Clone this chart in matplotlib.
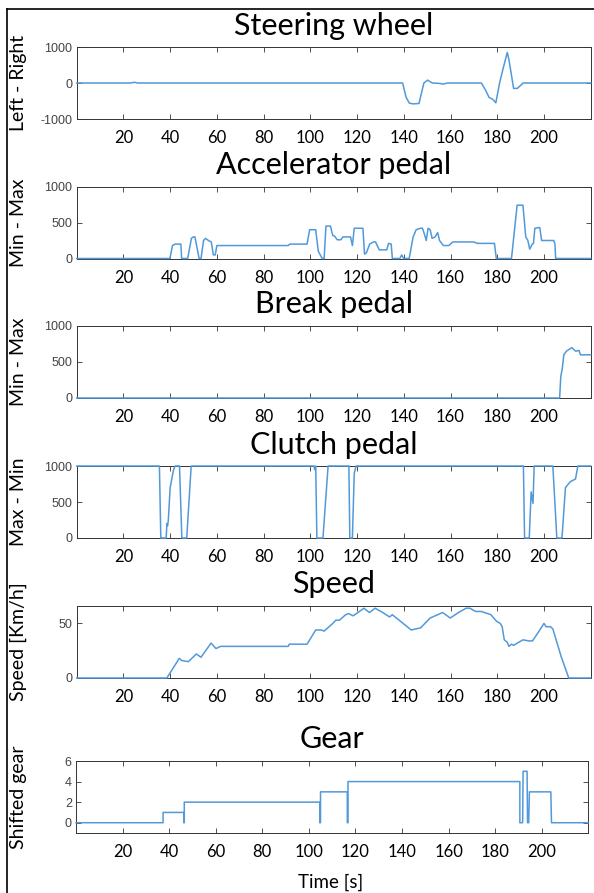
import matplotlib
matplotlib.use('Agg')
import matplotlib.pyplot as plt
from matplotlib.lines import Line2D

# ---- data ----
steer_t = [0, 23, 24.8, 26, 139.5, 141, 142.4, 144, 146.5, 148.6, 150.2, 152.2, 155, 157, 158.6,
           173.2, 175, 176.5, 178, 179.4, 181, 182.5, 184.3, 185, 187, 188.6, 191.1, 220]
steer_v = [0, 0, 20, 0, 0, -400, -560, -580, -570, 0, 80, 0, -10, -30, 0,
           0, -200, -400, -450, -550, 0, 400, 850, 650, -150, -150, 0, 0]

acc_t = [0, 39.9, 41, 42.1, 44.6, 44.9, 47.5, 49.1, 49.9, 50.6, 52.4, 53.2, 54.3, 55.1, 56.4,
         57.6, 58.5, 59.3, 60, 90.5, 91.3, 98.6, 99.7, 102.3, 103.4, 105.1, 105.9, 106.7,
         108.6, 109.6, 110.4, 111.5, 113.1, 113.9, 117.2, 118, 118.8, 122.5, 123.2, 124,
         125.4, 127, 127.9, 129.5, 132.7, 133.5, 134.6, 135.1, 138.3, 139.1, 139.9, 142.3,
         144, 145.3, 147.2, 148, 148.9, 149.6, 150.4, 151.3, 152.1, 153.4, 154.5, 155.3,
         156.9, 159.3, 161, 169.9, 171.5, 178.8, 179.6, 186.1, 187.4, 188.5, 191, 192.2,
         193.1, 193.9, 195, 195.5, 196.1, 198.2, 199, 204.2, 204.7, 205, 220]
acc_v = [0, 0, 180, 200, 200, 0, 0, 280, 300, 300, 0, 0, 250, 280, 250,
         230, 50, 50, 180, 180, 200, 200, 400, 400, 100, 0, 0, 450,
         450, 320, 310, 260, 260, 300, 300, 180, 420, 420, 60, 80,
         200, 230, 230, 120, 120, 210, 200, 0, 0, 50, 0, 0,
         300, 400, 420, 420, 330, 250, 420, 400, 280, 300, 360, 250,
         180, 180, 230, 230, 210, 210, 0, 0, 400, 740, 740, 300,
         250, 130, 200, 210, 420, 430, 250, 250, 200, 0, 0]

brk_t = [0, 206.7, 207.2, 207.8, 208.5, 209.6, 211.9, 212.5, 213.6, 215, 215.6, 220]
brk_v = [0, 0, 300, 400, 600, 650, 700, 680, 650, 660, 600, 600]

clu_t = [0, 35.4, 36.0, 38.3, 38.6, 38.9, 39.2, 40, 41.4, 42.1, 44.0, 45.0, 47.1, 49.0,
         101.6, 101.8, 102.3, 102.8, 105.4, 107.6, 116.5, 116.9, 118, 118.8, 119.6,
         191.2, 191.7, 193.7, 194.5, 195.3, 195.8, 203.8, 205.5, 207.7, 209.2, 211.2,
         213.5, 214.5, 220]
clu_v = [1000, 1000, 0, 0, 200, 170, 240, 700, 940, 1000, 1000, 0, 0, 1000,
         1000, 950, 1000, 0, 0, 1000, 1000, 0, 0, 900, 1000,
         1000, 0, 0, 640, 480, 1000, 1000, 0, 0, 700, 780,
         820, 1000, 1000]

spd_t = [0, 38.6, 43.9, 45, 47.8, 51.2, 53.2, 57.5, 59.6, 61.6, 90.5, 91, 98.6, 102.3, 104.7,
         105.9, 109.6, 110.9, 112.5, 115.1, 116.4, 118.3, 120.4, 122.9, 125.3, 127.7, 131,
         133.9, 135.1, 143.2, 147.2, 151.3, 156.6, 159.9, 163.4, 166.7, 168.3, 170.7, 173.2,
         177.3, 179.7, 181.3, 182.1, 183, 184.2, 185, 186.1, 187, 189.4, 191, 193.5, 195.1,
         197.6, 200, 200.9, 202.8, 203.8, 207.3, 210.6, 220]
spd_v = [0, 0, 18, 16, 15, 22, 19, 32, 27, 29, 29, 31, 31, 44, 44,
         43, 50, 53, 53, 58, 59, 57, 60, 64, 60, 64, 60,
         56, 58, 44, 46, 55, 60, 55, 60, 64, 64, 61, 61,
         58, 52, 50, 47, 35, 33, 29, 31, 30, 33, 35, 34, 34,
         42, 50, 47, 47, 45, 20, 0, 0]

gear_t = [0, 37.4, 37.4, 46.3, 46.3, 46.5, 46.5, 104.7, 104.7, 105.0, 105.0, 116.5, 116.5,
          116.8, 116.8, 190.6, 190.6, 191.8, 192.0, 193.7, 193.9, 194.4, 194.7, 203.9, 204.2, 220]
gear_v = [0, 0, 1, 1, 0, 0, 2, 2, 0, 0, 3, 3, 0,
          0, 4, 4, 0, 0, 5, 5, 0, 0, 3, 3, 0, 0]

titles = ['Steering wheel', 'Accelerator pedal', 'Break pedal', 'Clutch pedal', 'Speed', 'Gear']
ylabels = ['Left - Right', 'Min - Max', 'Min - Max', 'Max - Min', 'Speed [Km/h]', 'Shifted gear']
ylims = [(-1000, 1000), (0, 1000), (0, 1000), (0, 1000), (0, 66), (-1, 6)]
yticks = [[-1000, 0, 1000], [0, 500, 1000], [0, 500, 1000], [0, 500, 1000], [0, 50], [0, 2, 4, 6]]
xticks = [20, 40, 60, 80, 100, 120, 140, 160, 180, 200]

series = [(steer_t, steer_v), (acc_t, acc_v), (brk_t, brk_v),
          (clu_t, clu_v), (spd_t, spd_v), (gear_t, gear_v)]

# ---- layout in pixels ----
W, H = 594, 893
tops = [47, 186.5, 326, 466, 606, 761]
ax_h = 72
lefts = [76.7, 76.7, 76.7, 76.7, 76.7, 76]
rights = [590.7, 590.7, 590.7, 590.7, 590.7, 588.3]

line_col = '#5199da'
lab_font = 'Lato'

fig = plt.figure(figsize=(W / 100, H / 100), dpi=100)
fig.patch.set_facecolor('white')

for i in range(6):
    l, r, top = lefts[i], rights[i], tops[i]
    ax = fig.add_axes([l / W, 1 - (top + ax_h) / H, (r - l) / W, ax_h / H])
    t, v = series[i]
    ax.plot(t, v, color=line_col, lw=1.1, zorder=3, clip_on=False)
    ax.set_xlim(0, 220)
    ax.set_ylim(*ylims[i])
    ax.set_yticks(yticks[i])
    ax.set_xticks(xticks)
    ax.set_xticklabels([str(x) for x in xticks], fontfamily=lab_font, fontsize=12, color='black')
    ax.set_yticklabels([str(y) for y in yticks[i]], fontfamily='Liberation Sans', fontsize=9,
                       color='#444444')
    ax.tick_params(direction='in', top=True, right=True, length=3.5, width=0.6,
                   colors='#333333', labelcolor='#444444')
    ax.tick_params(axis='x', pad=8, labelcolor='black')
    ax.tick_params(axis='y', pad=3)
    for s in ax.spines.values():
        s.set_color('#333333')
        s.set_linewidth(0.7)
    ax.set_title(titles[i], fontfamily=lab_font, fontsize=22, pad=9)
    ax.set_ylabel(ylabels[i], fontfamily=lab_font, fontsize=14, labelpad=0)
    # rotated label grows to the left of its anchor
    ax.yaxis.set_label_coords((27 - l) / (r - l), 0.5)

fig.text(331 / W, 1 - 882 / H, 'Time [s]', ha='center', va='center',
         fontfamily=lab_font, fontsize=13.5)

# screenshot border (top and left edge)
fig.add_artist(Line2D([7 / W, 1], [1 - 9 / H, 1 - 9 / H], color='black', lw=1.2,
                      transform=fig.transFigure))
fig.add_artist(Line2D([7 / W, 7 / W], [0, 1 - 9 / H], color='black', lw=1.2,
                      transform=fig.transFigure))

fig.savefig('out.png', dpi=100)
